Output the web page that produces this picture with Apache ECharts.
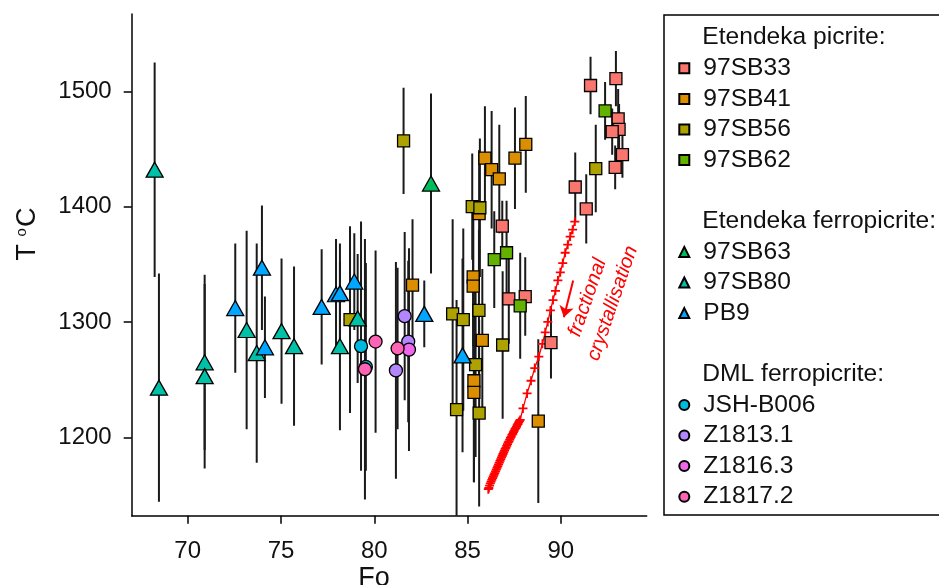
<!DOCTYPE html>
<html>
<head>
<meta charset="utf-8">
<script src="https://cdn.jsdelivr.net/npm/echarts@6/dist/echarts.min.js"></script>
<style>
  html, body { margin: 0; padding: 0; background: #fff; }
  #chart { width: 939px; height: 585px; }
</style>
</head>
<body>
<div id="chart"></div>
<script>
// Olivine-melt equilibration temperatures against olivine Fo content.
// Each row: [Fo, T (°C), error (°C)]
const SB33 = [
  [86.86, 1383, 22], [87.21, 1320, 39], [88.09, 1322, 34], [89.47, 1282, 31],
  [90.77, 1417, 30], [91.36, 1398, 30], [91.59, 1505, 25], [92.95, 1511, 24],
  [93.07, 1476, 26], [93.12, 1467, 22], [92.75, 1465, 20], [93.30, 1445, 20],
  [92.91, 1434, 19]
];
const SB41 = [
  [85.93, 1442, 45], [86.29, 1432, 51], [86.70, 1424, 47], [87.54, 1442, 44],
  [88.12, 1454, 42], [85.62, 1394, 55], [85.30, 1339, 60], [85.30, 1331, 70],
  [85.79, 1284, 62], [85.34, 1249, 88], [85.34, 1239, 78], [82.05, 1332, 57],
  [88.79, 1214, 71]
];
const SB56 = [
  [81.57, 1457, 46], [78.70, 1302, 81], [84.20, 1307, 82], [84.77, 1302, 79],
  [84.41, 1224, 95], [85.25, 1400, 46], [85.66, 1399, 60], [85.61, 1310, 70],
  [85.43, 1263, 80], [85.62, 1221, 81], [86.88, 1280, 64], [91.87, 1433, 38]
];
const SB62 = [
  [86.43, 1354, 42], [87.09, 1360, 45], [87.82, 1314, 46], [92.37, 1483, 25]
];
const SB63 = [
  [83.04, 1420, 78]
];
const SB80 = [
  [68.23, 1432, 93], [68.46, 1243, 99], [70.91, 1265, 76], [70.91, 1253, 80],
  [73.16, 1293, 86], [73.70, 1273, 95], [75.03, 1292, 63], [75.70, 1279, 69],
  [78.16, 1279, 73], [79.11, 1303, 56]
];
const PB9 = [
  [72.55, 1312, 56], [73.98, 1347, 54], [74.14, 1278, 44], [77.18, 1313, 50],
  [77.95, 1324, 48], [78.16, 1325, 43], [78.93, 1335, 42], [82.68, 1307, 29],
  [84.73, 1271, 84]
];
const JSHB006 = [
  [79.29, 1279, 108], [79.55, 1261, 90]
];
const Z1813 = [
  [81.63, 1305, 73], [81.82, 1283, 70], [81.16, 1258, 94]
];
const Z1816 = [
  [81.86, 1276, 88]
];
const Z1817 = [
  [79.50, 1259, 113], [80.07, 1283, 79], [81.25, 1277, 70]
];

// Fractional crystallisation model path (Fo, T), one row per model step
const fcFo = [
  90.75, 90.63, 90.50, 90.37, 90.23, 90.10, 89.97, 89.84, 89.71, 89.58,
  89.44, 89.30, 89.16, 89.01, 88.82, 88.60, 88.40, 88.19, 87.97,
  87.82, 87.78, 87.74, 87.70, 87.66, 87.62, 87.58, 87.54, 87.50, 87.46,
  87.42, 87.38, 87.34, 87.30, 87.26, 87.22, 87.18, 87.14, 87.10, 87.06,
  87.02, 86.98, 86.94, 86.90, 86.86, 86.82, 86.78, 86.74, 86.70, 86.66,
  86.62, 86.58, 86.54, 86.50, 86.46, 86.42, 86.38, 86.34, 86.30, 86.26,
  86.22, 86.18, 86.14, 86.11
];
const fcT = [
  1387, 1380, 1374, 1367, 1360, 1351, 1343, 1336, 1327, 1319,
  1310, 1300, 1291, 1281, 1270, 1260, 1249, 1238, 1225,
  1215, 1214, 1213, 1211.5, 1210.5, 1209, 1208, 1207, 1205.5, 1204.5,
  1203, 1202, 1200.5, 1199.5, 1198, 1196.5, 1195.5, 1194, 1192.5, 1191,
  1190, 1188.5, 1187, 1185.5, 1184, 1182.5, 1181, 1179.5, 1178, 1176.5,
  1175, 1173.5, 1172, 1170.5, 1169, 1167.5, 1166, 1164.5, 1163, 1161.5,
  1160, 1158, 1156, 1155
];
// Direction arrow next to the model path: [Fo, T] start and end
const arrowFrom = [90.66, 1336];
const arrowTo = [90.16, 1304];

const sampleNames = ['97SB33', '97SB41', '97SB56', '97SB62', '97SB63', '97SB80', 'PB9',
  'JSH-B006', 'Z1813.1', 'Z1816.3', 'Z1817.2'];
const sampleData = [SB33, SB41, SB56, SB62, SB63, SB80, PB9, JSHB006, Z1813, Z1816, Z1817];
const sampleColors = ['#F8766D', '#DB8E00', '#AEA200', '#64B200', '#00BD5C', '#00C1A7', '#00A6FF',
  '#00BADE', '#B385FF', '#EF67EB', '#FF63B6'];
const sampleShapes = ['rect', 'rect', 'rect', 'rect', 'triangle', 'triangle', 'triangle',
  'circle', 'circle', 'circle', 'circle'];
const xTicks = [70, 75, 80, 85, 90];
const yTicks = [1200, 1300, 1400, 1500];

const FONT = '"Liberation Sans", Arial, Helvetica, sans-serif';
const INK = '#111';

const markerSize = { rect: 12, triangle: [17, 15], circle: 13 };

const allRows = [];
sampleData.forEach(rows => rows.forEach(r => allRows.push(r)));

const series = [];
// vertical error bars, drawn beneath all markers
series.push({
  type: 'custom',
  name: 'errorbars',
  data: allRows,
  encode: { x: 0, y: 1 },
  clip: true,
  silent: true,
  z: 1,
  renderItem: function (params, api) {
    const fo = api.value(0), t = api.value(1), e = api.value(2);
    const top = api.coord([fo, t + e]);
    const bot = api.coord([fo, t - e]);
    return {
      type: 'line',
      shape: { x1: top[0], y1: top[1], x2: bot[0], y2: bot[1] },
      style: { stroke: '#1a1a1a', lineWidth: 2 }
    };
  }
});

series.push({
  type: 'line',
  name: 'fc',
  data: fcFo.map((f, i) => [f, fcT[i]]),
  symbol: 'path://M4,0H6V4H10V6H6V10H4V6H0V4H4Z',
  symbolSize: 9,
  showAllSymbol: true,
  silent: true,
  z: 2,
  itemStyle: { color: '#ff0000' },
  lineStyle: { color: '#ff0000', width: 1.3 },
  markLine: {
    silent: true,
    symbol: ['none', 'arrow'],
    symbolSize: 11,
    label: { show: false },
    lineStyle: { color: '#ff0000', width: 2, type: 'solid' },
    data: [[{ coord: arrowFrom }, { coord: arrowTo }]]
  }
});

sampleNames.forEach((name, i) => {
  series.push({
    type: 'scatter',
    name: name,
    data: sampleData[i].map(r => [r[0], r[1]]),
    symbol: sampleShapes[i],
    symbolSize: markerSize[sampleShapes[i]],
    z: 3,
    itemStyle: { color: sampleColors[i], borderColor: '#000', borderWidth: 1.3, opacity: 1 }
  });
});

const ROW = 30.6;
function legendBlock(names, firstRowCenter) {
  return {
    orient: 'vertical',
    left: 678.3,
    top: firstRowCenter - ROW / 2,
    padding: 0,
    itemGap: 0,
    itemWidth: 10,
    itemHeight: 10,
    selectedMode: false,
    data: names,
    textStyle: { fontFamily: FONT, fontSize: 24.6, color: INK, lineHeight: ROW, padding: [0, 0, 0, 9] }
  };
}

const legendTitle = (text, y) => ({
  type: 'text', x: 702.3, y: y,
  style: { text: text, font: '24.6px ' + FONT, fill: INK, align: 'left', verticalAlign: 'middle' }
});

const option = {
  backgroundColor: '#fff',
  animation: false,
  grid: { left: 131.7, right: 292.3, top: 14, bottom: 69.3 },
  xAxis: {
    type: 'value',
    min: 67.0, max: 94.6,
    axisLine: { show: true, lineStyle: { color: '#000', width: 1.5 } },
    axisTick: { show: true, length: 8, customValues: xTicks, lineStyle: { color: '#000', width: 1.5 } },
    axisLabel: { customValues: xTicks, margin: 24, fontFamily: FONT, fontSize: 24, color: INK,
      formatter: v => String(v) },
    splitLine: { show: false }
  },
  yAxis: {
    type: 'value',
    min: 1132, max: 1567,
    axisLine: { show: true, lineStyle: { color: '#000', width: 1.5 } },
    axisTick: { show: true, length: 8, customValues: yTicks, lineStyle: { color: '#000', width: 1.5 } },
    axisLabel: { customValues: yTicks, margin: 20, fontFamily: FONT, fontSize: 24, color: INK,
      formatter: v => String(v) },
    splitLine: { show: false }
  },
  legend: [
    legendBlock(sampleNames.slice(0, 4), 68.3),
    legendBlock(sampleNames.slice(4, 7), 251.9),
    legendBlock(sampleNames.slice(7, 11), 404.9)
  ],
  graphic: [
    // axis titles
    { type: 'text', x: 374, y: 579,
      style: { text: 'Fo', font: '27px ' + FONT, fill: INK, align: 'center', verticalAlign: 'middle' } },
    { type: 'text', x: 28, y: 234, rotation: Math.PI / 2,
      style: { text: 'T {sup|o}C', font: '27px ' + FONT, fill: INK, align: 'center', verticalAlign: 'middle',
        rich: { sup: { font: '15px ' + FONT, fill: INK, verticalAlign: 'top', padding: [0, 1, 10, 0] } } } },
    // legend frame and group headings
    { type: 'rect', shape: { x: 664, y: 15, width: 320, height: 500 },
      style: { fill: 'none', stroke: '#000', lineWidth: 1.5 }, z: 10 },
    legendTitle('Etendeka picrite:', 37.7),
    legendTitle('Etendeka ferropicrite:', 221.3),
    legendTitle('DML ferropicrite:', 374.3),
    // model path annotation
    { type: 'text', x: 587.5, y: 297.5, rotation: 71 * Math.PI / 180,
      style: { text: 'fractional', font: 'italic 20px ' + FONT, fill: '#ff0000', align: 'center', verticalAlign: 'middle' } },
    { type: 'text', x: 612.5, y: 303.3, rotation: 71 * Math.PI / 180,
      style: { text: 'crystallisation', font: 'italic 20px ' + FONT, fill: '#ff0000', align: 'center', verticalAlign: 'middle' } }
  ],
  series: series
};

const chart = echarts.init(document.getElementById('chart'), null, { renderer: 'canvas' });
chart.setOption(option);
</script>
</body>
</html>
